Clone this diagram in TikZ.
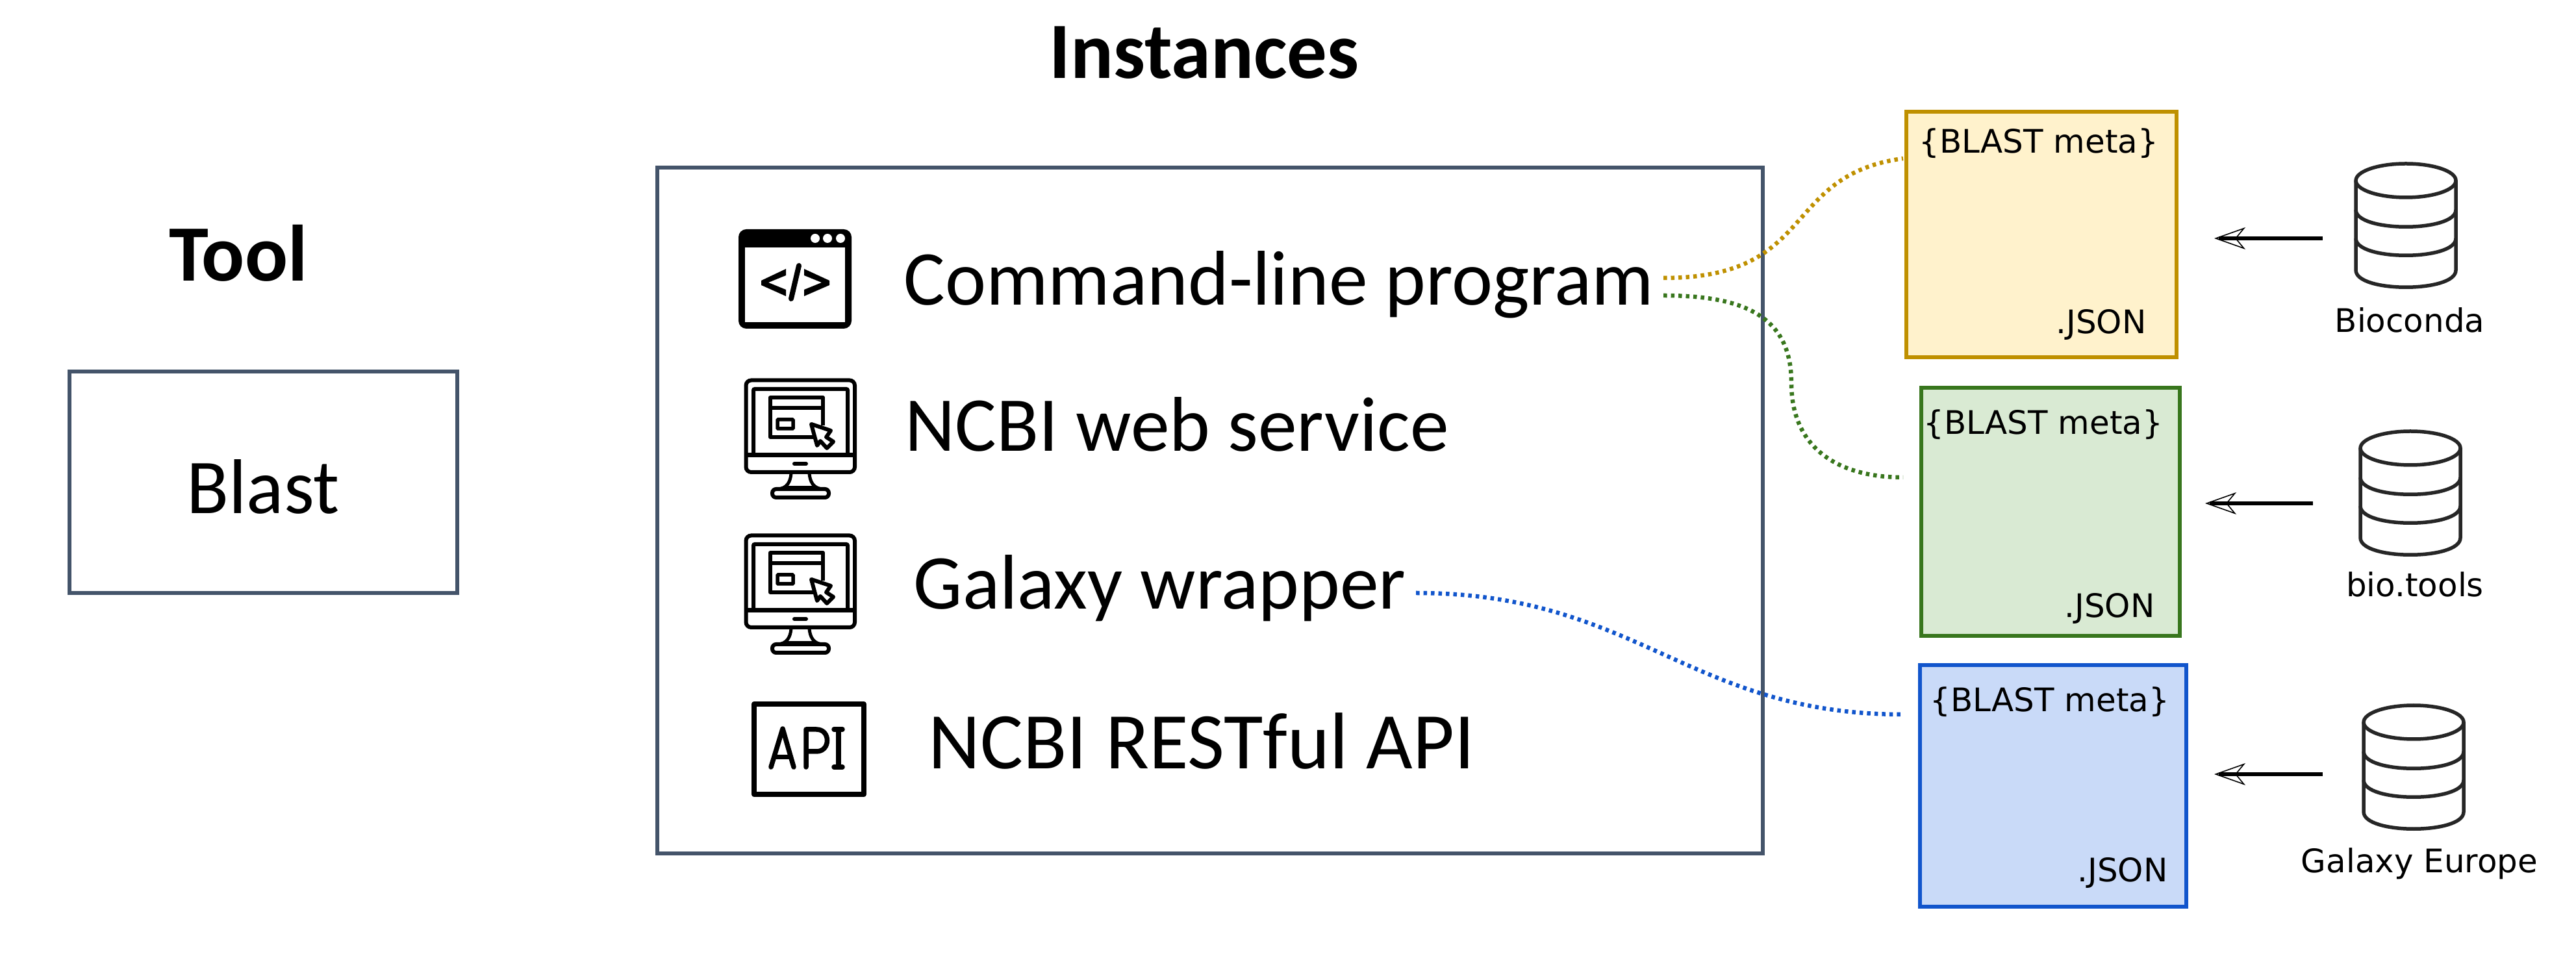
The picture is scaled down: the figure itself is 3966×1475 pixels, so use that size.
\documentclass[tikz,border=0pt]{standalone}
\usepackage{fontspec}
\setmainfont{Carlito}
\newfontfamily\dejavu{DejaVu Sans}
\usetikzlibrary{arrows.meta,positioning}

\definecolor{slateline}{HTML}{44546A}
\definecolor{yellowline}{HTML}{BF9000}
\definecolor{yellowfill}{HTML}{FFF2CC}
\definecolor{greenline}{HTML}{38761D}
\definecolor{greenfill}{HTML}{D9EAD3}
\definecolor{blueline}{HTML}{1155CC}
\definecolor{bluefill}{HTML}{C9DAF8}

\tikzset{
    framebox/.style={draw=slateline,line width=.6mm,inner sep=0pt},
    jsonbox/.style={line width=.6mm,inner sep=0pt},
    bigtext/.style={inner sep=0pt,font=\fontsize{34}{40}\selectfont},
    headtext/.style={inner sep=0pt,font=\fontsize{35}{42}\selectfont\bfseries},
    smalltext/.style={inner sep=0pt,font=\dejavu\fontsize{14.2}{17}\selectfont},
    dotline/.style={line width=.65mm,dash pattern=on .55mm off .6mm},
    fetchline/.style={line width=.65mm,shorten >=.7mm},
    fetchtip/.style={line width=.05mm,-{Stealth[open,length=4.8mm,width=3.4mm,inset=1.4mm,line width=.16mm]}},
    pics/monitoricon/.style={code={
        \draw[line width=.6mm,rounded corners=.8mm] (2.5,2.5) rectangle (170,144);
        \draw[line width=.7mm] (2.5,118) -- (170,118);
        \draw[line width=.6mm,rounded corners=.2mm] (14,118) -- (14,16) -- (159,16) -- (159,118);
        \draw[line width=.6mm,line join=round] (107,90) -- (40,90) -- (40,29) -- (121,29) -- (121,72);
        \draw[line width=.6mm] (40,45) -- (121,45);
        \draw[line width=.55mm,rounded corners=.1mm] (51,63) rectangle (75,77);
        \draw[line width=.6mm,line join=round,fill=white] (103,70) -- (133,80) -- (126,90) -- (137,97) -- (127,107) -- (117,96) -- (112,103) -- cycle;
        \draw[line width=.6mm,line cap=round] (77,131) -- (95,131);
        \draw[line width=.5mm] (72,146) .. controls (71,158) and (66,170) .. (50,170);
        \draw[line width=.5mm] (100,146) .. controls (101,158) and (106,170) .. (122,170);
        \draw[line width=.5mm] (66,168) -- (106,168);
        \draw[line width=.6mm,rounded corners=.6mm] (43,170) rectangle (130,183);
    }},
    pics/dbicon/.style={code={
        \draw[line width=.55mm,black!85] (0,26) ellipse [x radius=77,y radius=26];
        \draw[line width=.55mm,black!85] (-77,26) -- (-77,164) .. controls (-77,199) and (77,199) .. (77,164) -- (77,26);
        \draw[line width=.55mm,black!85] (-77,71) .. controls (-77,106) and (77,106) .. (77,71);
        \draw[line width=.55mm,black!85] (-77,115) .. controls (-77,150) and (77,150) .. (77,115);
    }},
}

\begin{document}
\begin{tikzpicture}[x=.1mm,y=-.1mm]
    \useasboundingbox (0,0) rectangle (3966,1475);

    %%%% Tool =====================================
    \node[headtext] (toolhead) at (367,390) {Tool};
    \node[framebox,minimum width=59.7mm,minimum height=34.1mm] (toolbox) at (405,743) {};
    \node[bigtext] (blast) at (405,749) {Blast};

    %%%% Instances ================================
    \node[headtext] (insthead) at (1854,81) {Instances};
    \node[framebox,minimum width=170.2mm,minimum height=105.6mm] (instbox) at (1863,786) {};

    % Labels
    \node[bigtext,anchor=west] (cmdline) at (1391,438) {Command-line program};
    \node[bigtext,anchor=west] (webservice) at (1393,653) {NCBI web service};
    \node[bigtext,anchor=west] (galaxywrap) at (1406,906) {Galaxy wrapper};
    \node[bigtext,anchor=west,font=\fontsize{35.2}{40}\selectfont] (restapi) at (1429,1141) {NCBI RESTful API};

    % Window icon
    \fill[rounded corners=1.2mm] (1137,353) rectangle (1311,506);
    \fill[white] (1147,381) rectangle (1301,496);
    \foreach \x in {1255,1274,1294}
        \fill[white] (\x,367) circle [radius=7];
    \fill (1210,414) -- (1172,432) -- (1172,439) -- (1210,456) -- (1210,446) -- (1183,435) -- (1210,424) -- cycle;
    \fill (1238,414) -- (1277,432) -- (1277,439) -- (1238,456) -- (1238,446) -- (1265,435) -- (1238,424) -- cycle;
    \draw[line width=.8mm,line cap=round] (1230,409) -- (1218,460);

    % Monitor icons
    \pic (webicon) at (1146,583) {monitoricon};
    \pic (galaxyicon) at (1146,822) {monitoricon};

    % API icon
    \draw[line width=.8mm,line join=round] (1161,1084) rectangle (1330,1223);
    \draw[line width=.75mm,line cap=round,line join=round] (1187,1181) -- (1205,1122) -- (1222,1181);
    \draw[line width=.7mm] (1193,1165) -- (1217,1165);
    \draw[line width=.75mm,line cap=round,line join=round] (1241,1181) -- (1241,1123) -- (1257,1123) .. controls (1279,1123) and (1279,1157) .. (1257,1157) -- (1241,1157);
    \draw[line width=.75mm,line cap=round] (1284,1123) -- (1297,1123);
    \draw[line width=.75mm,line cap=round] (1291,1123) -- (1291,1181);
    \draw[line width=.75mm,line cap=round] (1284,1181) -- (1297,1181);

    %%%% Metadata files ===========================
    \node[jsonbox,draw=yellowline,fill=yellowfill,minimum width=41.6mm,minimum height=37.8mm] (biocondajson) at (3143,361) {};
    \node[jsonbox,draw=greenline,fill=greenfill,minimum width=39.8mm,minimum height=38.2mm] (biotoolsjson) at (3157,788) {};
    \node[jsonbox,draw=blueline,fill=bluefill,minimum width=41mm,minimum height=37.1mm] (galaxyjson) at (3161,1210) {};

    \node[smalltext] (biocondameta) at (3139,221) {\{BLAST meta\}};
    \node[smalltext] (biotoolsmeta) at (3146,654) {\{BLAST meta\}};
    \node[smalltext] (galaxymeta) at (3156,1081) {\{BLAST meta\}};
    \node[smalltext,anchor=east] (biocondaext) at (3305,500) {.JSON};
    \node[smalltext,anchor=east] (biotoolsext) at (3318,937) {.JSON};
    \node[smalltext,anchor=east] (galaxyext) at (3338,1344) {.JSON};

    %%%% Registries ===============================
    \pic (biocondadb) at (3704,252) {dbicon};
    \pic (biotoolsdb) at (3711,664) {dbicon};
    \pic (galaxydb) at (3716,1086) {dbicon};

    \node[smalltext] (biocondalabel) at (3710,493) {Bioconda};
    \node[smalltext] (biotoolslabel) at (3718,900) {bio.tools};
    \node[smalltext] (galaxylabel) at (3725,1330) {Galaxy Europe};

    % Free ends of the connectors
    \coordinate (biocondafrom) at (3576,367);
    \coordinate (biocondato) at (3409,367);
    \coordinate (biotoolsfrom) at (3561,775);
    \coordinate (biotoolsto) at (3395,775);
    \coordinate (galaxyfrom) at (3576,1192);
    \coordinate (galaxyto) at (3409,1192);
    \coordinate (cmdyellow) at (2561,428);
    \coordinate (cmdgreen) at (2561,455);
    \coordinate (wrapblue) at (2180,913);
    \coordinate (yellowend) at (2930,244);
    \coordinate (greenbend) at (2758,590);
    \coordinate (greenend) at (2930,735);
    \coordinate (blueend) at (2930,1100);

    % Arcs
    \draw[fetchline] (biocondafrom) -- (biocondato);
    \draw[fetchline] (biotoolsfrom) -- (biotoolsto);
    \draw[fetchline] (galaxyfrom) -- (galaxyto);
    \draw[fetchtip] (biocondafrom) -- (biocondato);
    \draw[fetchtip] (biotoolsfrom) -- (biotoolsto);
    \draw[fetchtip] (galaxyfrom) -- (galaxyto);
    \draw[dotline,yellowline] (cmdyellow) .. controls (2800,428) and (2740,270) .. (yellowend);
    \draw[dotline,greenline] (cmdgreen) .. controls (2690,455) and (2758,490) .. (greenbend) .. controls (2758,690) and (2830,735) .. (greenend);
    \draw[dotline,blueline] (wrapblue) .. controls (2520,913) and (2600,1100) .. (blueend);
\end{tikzpicture}
\end{document}
